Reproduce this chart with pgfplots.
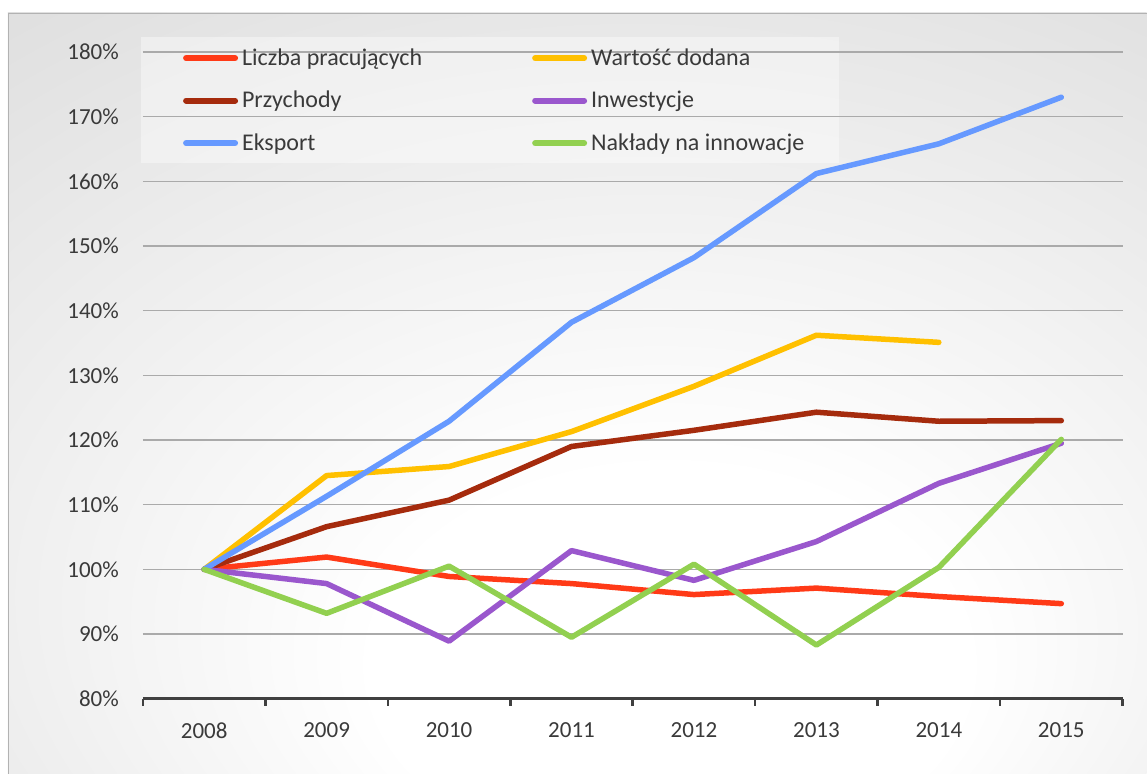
\documentclass[border=0pt]{standalone}
\usepackage{pgfplots}
\pgfplotsset{compat=1.18}
\usepackage{pgfplotstable}
\usepackage{fontspec}
\setmainfont{Carlito}
\definecolor{cRed}{HTML}{FF3A17}
\definecolor{cYel}{HTML}{FFC000}
\definecolor{cBrn}{HTML}{A52B0D}
\definecolor{cPur}{HTML}{9A57CD}
\definecolor{cBlu}{HTML}{6699FF}
\definecolor{cGrn}{HTML}{92D050}
\definecolor{txt}{HTML}{3A3A3A}
\definecolor{axgray}{HTML}{404040}
\definecolor{gridgray}{HTML}{AAAAAA}
\definecolor{bgA}{HTML}{D6D6D6}
\definecolor{bgB}{HTML}{C2C2C2}
\pgfdeclareradialshading{bgshade}{\pgfpoint{5bp}{-22bp}}{color(0bp)=(white); color(13bp)=(white); color(52bp)=(bgA); color(71bp)=(bgB)}

\pgfplotstableread{
x  lp     wd     pr     inw    eks    nak
0  100.0  100.0  100.0  100.0  100.0  100.0
1  101.9  114.5  106.6  97.8   111.3  93.2
2  98.9   115.9  110.7  88.9   122.9  100.5
3  97.8   121.3  119.0  102.9  138.2  89.5
4  96.1   128.3  121.5  98.3   148.2  100.8
5  97.1   136.2  124.3  104.3  161.2  88.3
6  95.8   135.1  122.9  113.3  165.8  100.3
7  94.7   nan    123.0  119.5  173.0  120.1
}\data

\begin{document}
\begin{tikzpicture}[x=1pt,y=1pt]
\fill[white] (0,0) rectangle (1147,774);
\shade[shading=bgshade] (8,0) rectangle (1147,761);
\draw[color=gray!60, line width=1pt] (8.5,0) -- (8.5,760.5) -- (1147,760.5);
\fill[white, opacity=0.4] (141,611) rectangle (839,737);
\begin{axis}[
  at={(143pt,75pt)}, anchor=south west,
  scale only axis, width=980pt, height=647pt,
  xmin=-0.5, xmax=7.5, ymin=80, ymax=180,
  axis x line*=bottom, axis y line*=left,
  xtick pos=left, ytick pos=left,
  y axis line style={draw=none},
  x axis line style={-, line width=3pt, color=axgray},
  xtick={0,...,7},
  xticklabels={2008,2009,2010,2011,2012,2013,2014,2015},
  minor xtick={-0.5,0.5,...,7.5},
  major tick length=0pt, minor tick length=7pt,
  tick align=outside,
  major x tick style={draw=none},
  major y tick style={draw=none},
  minor x tick style={line width=2.5pt, color=axgray},
  ytick={80,90,...,180},
  yticklabels={80\%,90\%,100\%,110\%,120\%,130\%,140\%,150\%,160\%,170\%,180\%},
  ymajorgrids,
  grid style={line width=1.3pt, color=gridgray},
  ticklabel style={font=\fontsize{23}{27}\selectfont, text=txt},
  yticklabel style={anchor=east, inner sep=0pt, xshift=-24pt},
  xticklabel style={anchor=north, inner sep=0pt, yshift=-24pt},
  every axis plot/.append style={line width=5.5pt, line cap=round, line join=round},
  unbounded coords=jump,
  legend columns=2,
  legend cell align=left,
  legend image code/.code={\draw[#1, line width=6pt, line cap=round] (3pt,0pt) -- (52pt,0pt);},
  legend style={at={(axis description cs:0.0408,1.0077)}, anchor=north west,
    draw=none, fill=none, inner sep=0pt, row sep=20.5pt,
    font=\fontsize{24}{28}\selectfont, text=txt,
    nodes={inner sep=0pt, text height=18pt, text depth=4pt},
    /tikz/every odd column/.append style={column sep=4pt},
    /tikz/every even column/.append style={column sep=110pt}},
]
\addplot[cRed] table[x=x,y=lp] {\data};
\addlegendentry{Liczba pracujących}
\addplot[cYel] table[x=x,y=wd] {\data};
\addlegendentry{Wartość dodana}
\addplot[cBrn] table[x=x,y=pr] {\data};
\addlegendentry{Przychody}
\addplot[cPur] table[x=x,y=inw] {\data};
\addlegendentry{Inwestycje}
\addplot[cBlu] table[x=x,y=eks] {\data};
\addlegendentry{Eksport}
\addplot[cGrn] table[x=x,y=nak] {\data};
\addlegendentry{Nakłady na innowacje}
\end{axis}
\end{tikzpicture}
\end{document}
